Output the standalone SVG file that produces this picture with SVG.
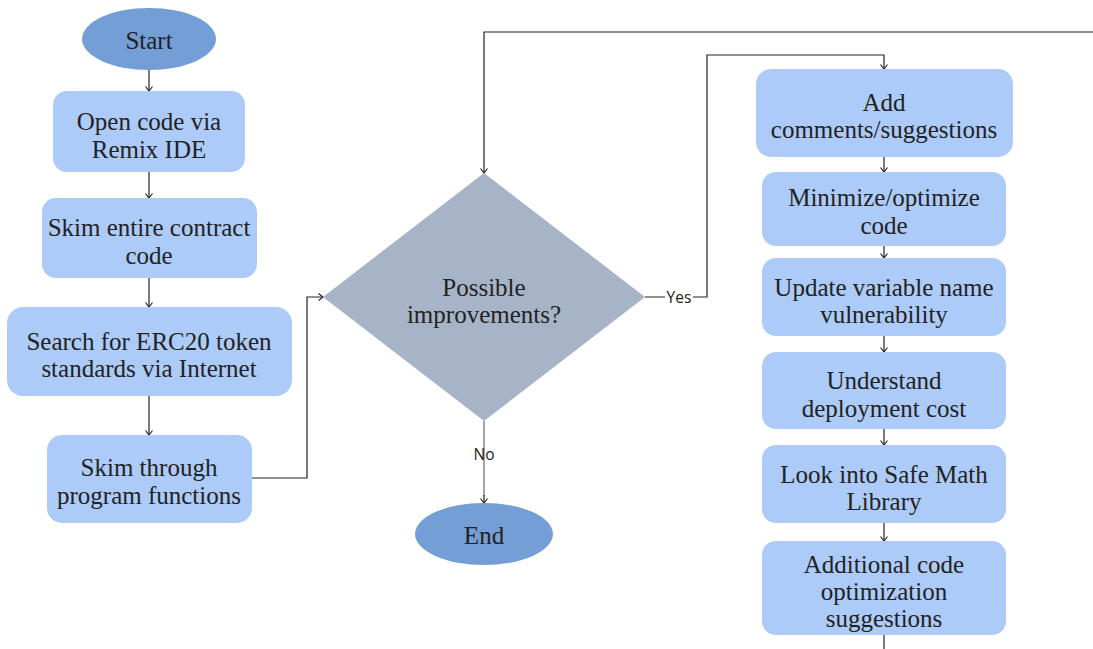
<svg xmlns="http://www.w3.org/2000/svg" width="1093" height="649" viewBox="0 0 1093 649">
<style>
.t{font-family:"Liberation Serif","Times New Roman",serif;font-size:25px;fill:#222;text-anchor:middle}
.l{font-family:"Open Sans","DejaVu Sans",sans-serif;font-size:15.5px;fill:#222;text-anchor:middle}
.box{fill:#ADCBF8}
.term{fill:#749FD6}
.dec{fill:#A7B4C8}
.c{fill:none;stroke:#222;stroke-width:1.2}
.g{fill:none;stroke:#888;stroke-width:1.5}
</style>
<defs>
<marker id="a" markerWidth="10" markerHeight="10" refX="8" refY="5" orient="auto" markerUnits="userSpaceOnUse">
<path d="M3.5,1.5 L8,5 L3.5,8.5" fill="none" stroke="#222" stroke-width="1.1"/>
</marker>
</defs>
<rect width="1093" height="649" fill="#fff"/>
<g id="connectors">
<path class="c" d="M149,69 V91" marker-end="url(#a)"/>
<path class="c" d="M149,172 V198" marker-end="url(#a)"/>
<path class="c" d="M149,278 V307" marker-end="url(#a)"/>
<path class="c" d="M149,396 V435" marker-end="url(#a)"/>
<path class="c" d="M252,478 H307 V297 H323" marker-end="url(#a)"/>
<path class="c" d="M1093,32 H484 V173" marker-end="url(#a)"/>
<path class="c" d="M645,297 H707 V55 H884 V69" marker-end="url(#a)"/>
<path class="g" d="M484,421 V496"/>
<path class="c" d="M484,495 V503" marker-end="url(#a)"/>
<path class="c" d="M884,157 V172" marker-end="url(#a)"/>
<path class="c" d="M884,246 V258" marker-end="url(#a)"/>
<path class="c" d="M884,336 V352" marker-end="url(#a)"/>
<path class="c" d="M884,429 V445" marker-end="url(#a)"/>
<path class="c" d="M884,523 V541" marker-end="url(#a)"/>
<path class="c" d="M884,635 V649"/>
<rect x="665" y="287" width="28" height="20" fill="#fff"/>
<text class="l" x="679" y="302.5">Yes</text>
<text class="l" x="484" y="460">No</text>
</g>
<g id="start">
<ellipse class="term" cx="149" cy="39" rx="67" ry="31"/>
<text class="t" x="149" y="49">Start</text>
</g>
<g id="open">
<rect class="box" x="53" y="91" width="192" height="81" rx="14"/>
<text class="t" x="149" y="130">Open code via</text>
<text class="t" x="149" y="158">Remix IDE</text>
</g>
<g id="skim">
<rect class="box" x="42" y="198" width="215" height="80" rx="14"/>
<text class="t" x="149" y="236">Skim entire contract</text>
<text class="t" x="149" y="264">code</text>
</g>
<g id="search">
<rect class="box" x="7" y="307" width="285" height="89" rx="16"/>
<text class="t" x="149" y="350">Search for ERC20 token</text>
<text class="t" x="149" y="377">standards via Internet</text>
</g>
<g id="skimfn">
<rect class="box" x="47" y="435" width="205" height="88" rx="15"/>
<text class="t" x="149" y="476">Skim through</text>
<text class="t" x="149" y="504">program functions</text>
</g>
<g id="decision">
<polygon class="dec" points="484,173 645,297 484,421 323,297"/>
<text class="t" x="484" y="296">Possible</text>
<text class="t" x="484" y="323">improvements?</text>
</g>
<g id="end">
<ellipse class="term" cx="484" cy="534" rx="69" ry="31"/>
<text class="t" x="484" y="544">End</text>
</g>
<g id="add">
<rect class="box" x="756" y="69" width="257" height="88" rx="15"/>
<text class="t" x="884" y="111">Add</text>
<text class="t" x="884" y="138">comments/suggestions</text>
</g>
<g id="minimize">
<rect class="box" x="762" y="172" width="244" height="74" rx="14"/>
<text class="t" x="884" y="206">Minimize/optimize</text>
<text class="t" x="884" y="234">code</text>
</g>
<g id="update">
<rect class="box" x="762" y="258" width="244" height="78" rx="14"/>
<text class="t" x="884" y="296">Update variable name</text>
<text class="t" x="884" y="323">vulnerability</text>
</g>
<g id="understand">
<rect class="box" x="762" y="352" width="244" height="77" rx="14"/>
<text class="t" x="884" y="389">Understand</text>
<text class="t" x="884" y="417">deployment cost</text>
</g>
<g id="safemath">
<rect class="box" x="762" y="445" width="244" height="78" rx="14"/>
<text class="t" x="884" y="483">Look into Safe Math</text>
<text class="t" x="884" y="510">Library</text>
</g>
<g id="additional">
<rect class="box" x="762" y="541" width="244" height="94" rx="14"/>
<text class="t" x="884" y="573">Additional code</text>
<text class="t" x="884" y="600">optimization</text>
<text class="t" x="884" y="627">suggestions</text>
</g>
</svg>
